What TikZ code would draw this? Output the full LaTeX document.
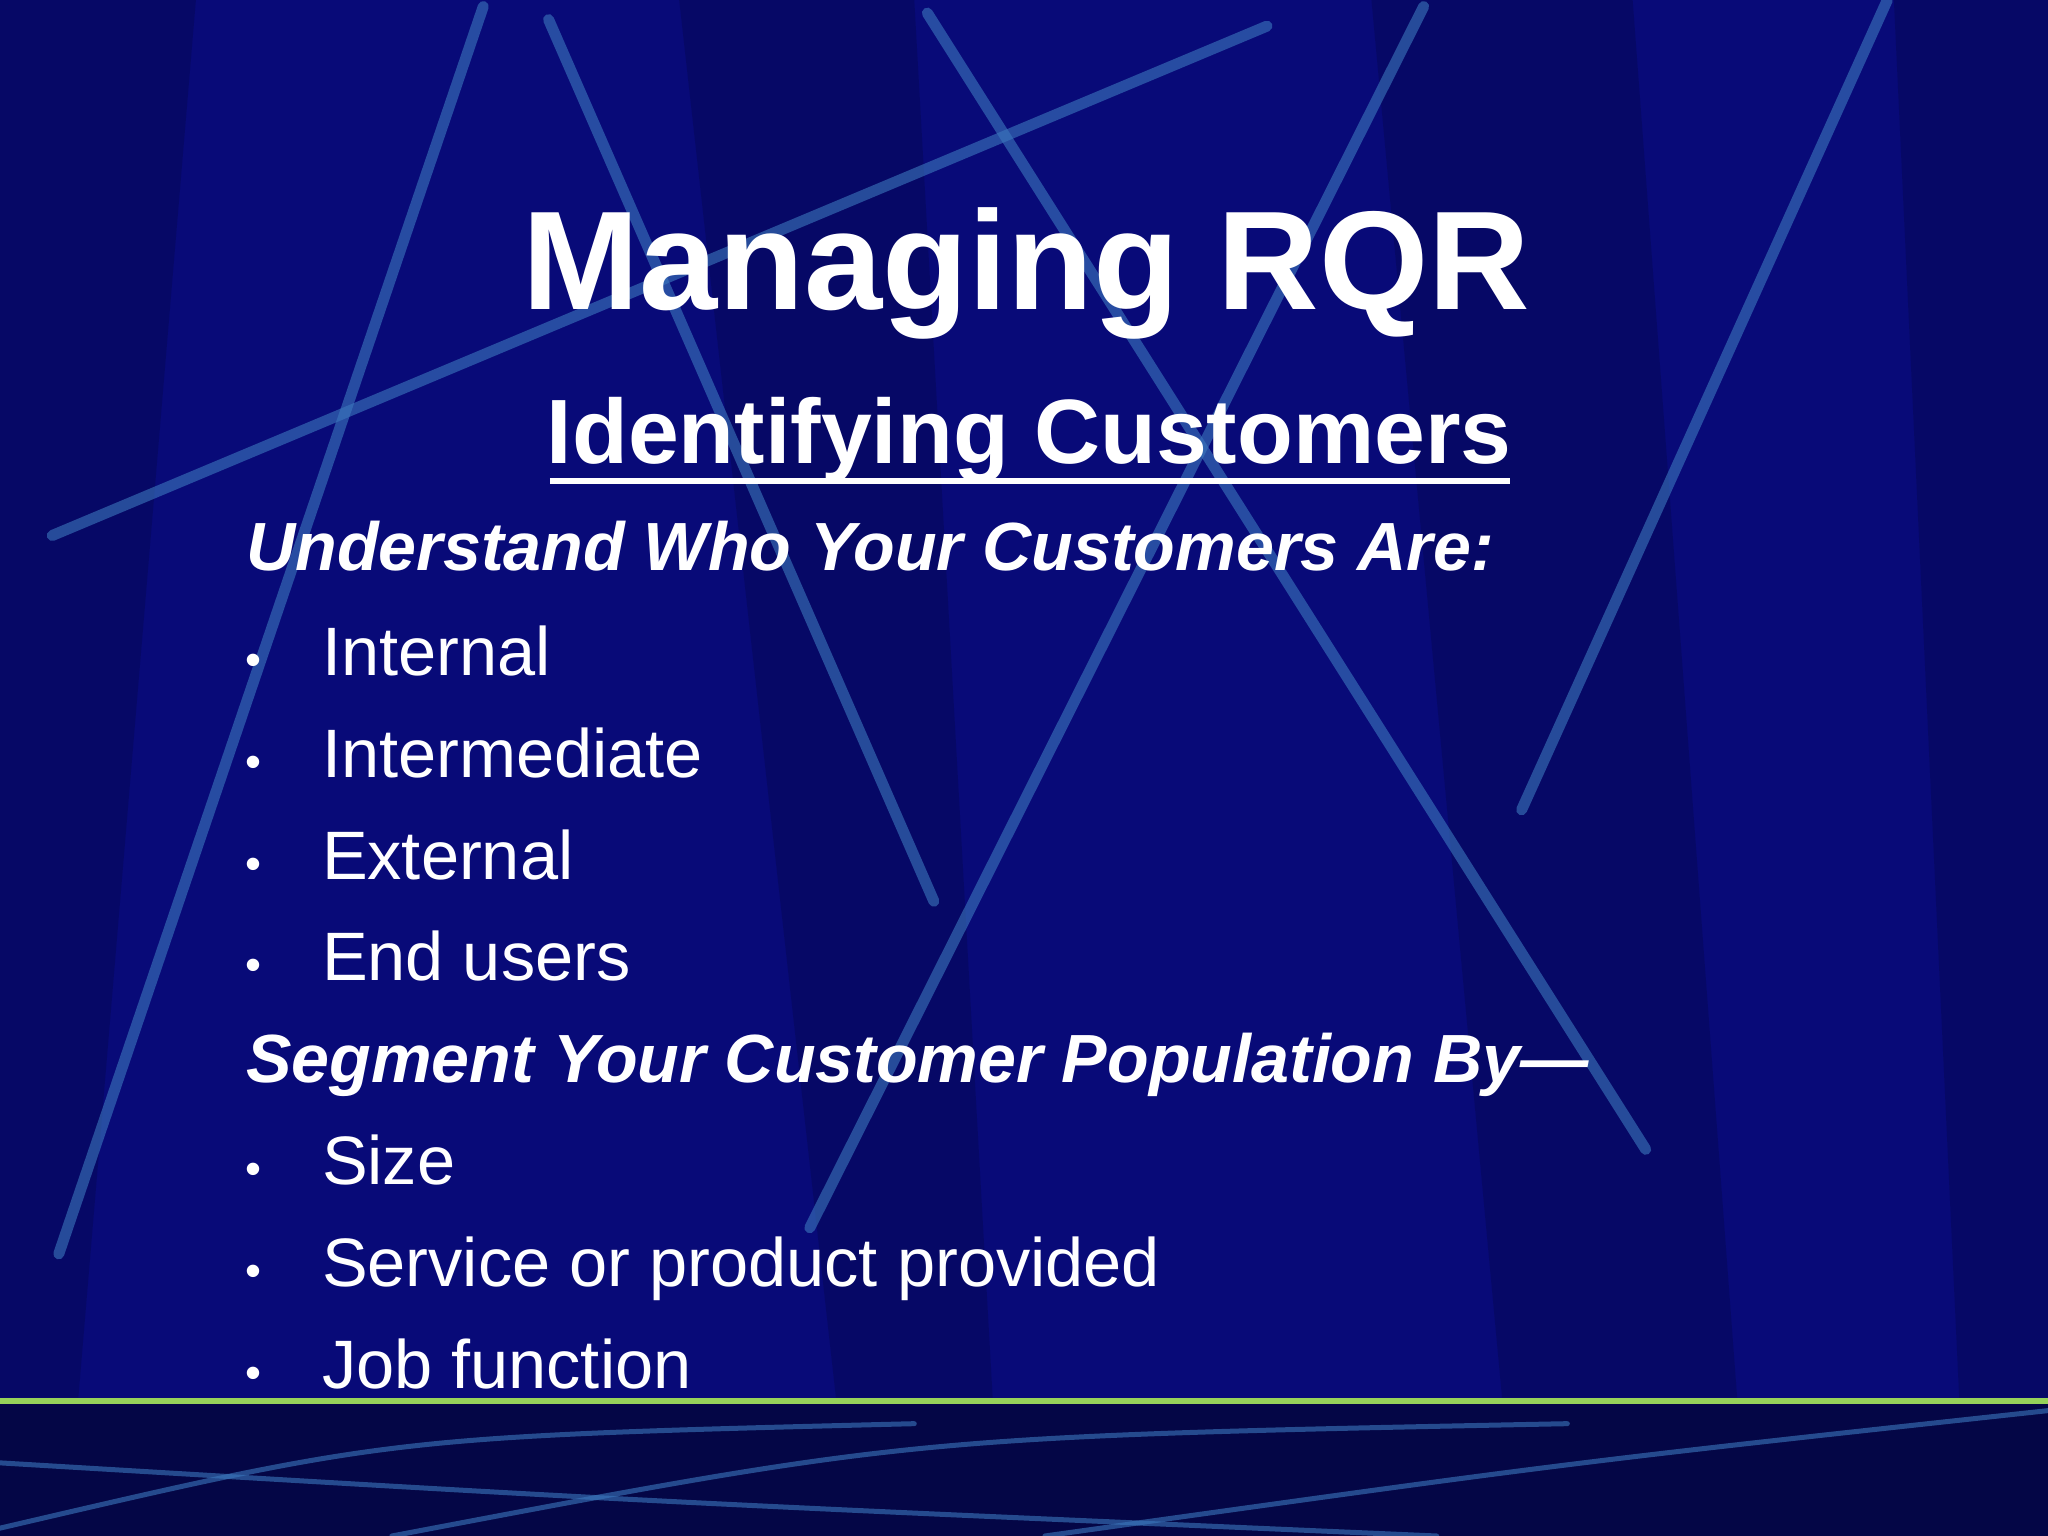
\documentclass[tikz,border=0pt]{standalone}
\usepackage{fontspec}
\setmainfont{Liberation Sans}
\definecolor{bg}{RGB}{8,10,120}
\definecolor{ln}{RGB}{60,120,190}
\definecolor{dk}{RGB}{4,6,70}
\definecolor{grn}{RGB}{150,210,90}
\tikzset{streak/.style={draw=ln,line width=0.11cm,opacity=0.6,line cap=round},
 dband/.style={fill=dk,opacity=0.35},
 txt/.style={text=white,inner sep=0pt,anchor=base west},
 bul/.style={text=white,inner sep=0pt,anchor=base,font=\fontsize{13}{16}\selectfont}}
\begin{document}
\begin{tikzpicture}[x=0.01306cm,y=-0.01306cm]
\useasboundingbox (0,0) rectangle (1568,1176);
\fill[bg] (0,0) rectangle (1568,1176);
% dark diagonal bands
\fill[dband] (0,0) -- (150,0) -- (60,1070) -- (0,1070) -- cycle;
\fill[dband] (520,0) -- (700,0) -- (760,1070) -- (640,1070) -- cycle;
\fill[dband] (1050,0) -- (1250,0) -- (1330,1070) -- (1150,1070) -- cycle;
\fill[dband] (1450,0) -- (1568,0) -- (1568,1070) -- (1500,1070) -- cycle;
% streaks
\draw[streak] (45,960) -- (370,5);
\draw[streak] (420,15) -- (715,690);
\draw[streak] (40,410) -- (970,20);
\draw[streak] (710,10) -- (1260,880);
\draw[streak] (620,940) -- (1090,5);
\draw[streak] (1165,620) -- (1445,0);
% bottom band
\fill[dk] (0,1075) rectangle (1568,1176);
\draw[streak,line width=0.05cm] (0,1170) .. controls (300,1100) .. (700,1090);
\draw[streak,line width=0.05cm] (300,1176) .. controls (700,1100) .. (1200,1090);
\draw[streak,line width=0.05cm] (800,1176) .. controls (1200,1120) .. (1568,1080);
\draw[streak,line width=0.05cm] (0,1120) .. controls (500,1150) .. (1100,1176);
\draw[grn,line width=0.06cm] (0,1073) -- (1568,1073);
% text
\node[text=white,inner sep=0pt,anchor=base] (title) at (786,237) {\fontsize{40}{44}\selectfont\bfseries Managing RQR};
\node[text=white,inner sep=0pt,anchor=base] (sub) at (788,355) {\fontsize{26}{30}\selectfont\bfseries Identifying Customers};
\draw[white,line width=0.06cm] (421,368) -- (1156,368);
\node[txt,font=\fontsize{19.4}{23}\selectfont\bfseries\itshape] (h1) at (188,437) {Understand Who Your Customers Are:};
\foreach \t/\y [count=\i] in {Internal/517,Intermediate/595,External/673,End users/751,Size/907,Service or product provided/985,Job function/1063}{
  \node[bul] (b\i) at (194,\y) {•};
  \node[txt,font=\fontsize{19.5}{24}\selectfont] (t\i) at (246,\y) {\t};
}
\node[txt,font=\fontsize{19.4}{23}\selectfont\bfseries\itshape] (h2) at (188,829) {Segment Your Customer Population By—};
\end{tikzpicture}
\end{document}
